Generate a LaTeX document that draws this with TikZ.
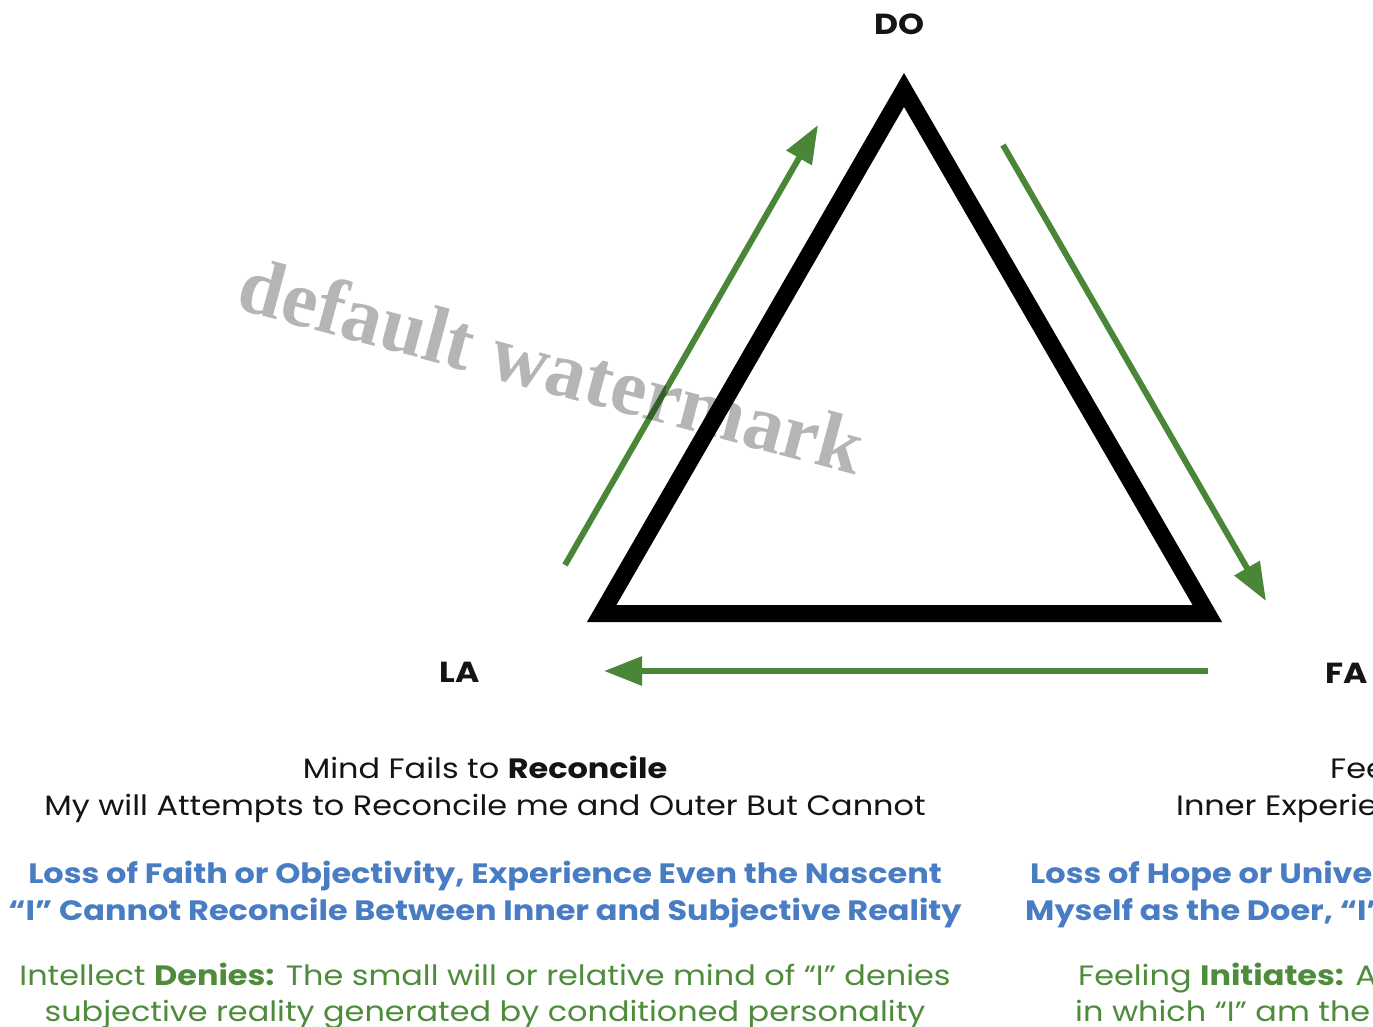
\documentclass[tikz,border=0pt]{standalone}
\usepackage{fontspec}
\setmainfont{Poppins}[FakeStretch=1.14]
\newfontfamily\wmfont{Liberation Serif}
\usetikzlibrary{arrows.meta}
\definecolor{arrowgreen}{RGB}{74,134,56}
\definecolor{textblue}{RGB}{72,125,196}
\definecolor{textgreen}{RGB}{78,140,60}
\definecolor{textblack}{RGB}{20,20,20}
\tikzset{
  tri/.style={line width=17pt, miter limit=10, line join=miter, draw=black},
  flow/.style={draw=arrowgreen, line width=6pt, -{Triangle[length=38pt,width=28pt]}},
  vertexlabel/.style={font=\fontsize{29}{34}\selectfont\bfseries, text=textblack, inner sep=0pt},
  blackline/.style={font=\fontsize{28}{34}\selectfont, text=textblack, inner sep=0pt, anchor=base},
  blueline/.style={font=\fontsize{28}{34}\selectfont\bfseries, text=textblue, inner sep=0pt, anchor=base},
  greenline/.style={font=\fontsize{28}{34}\selectfont, text=textgreen, inner sep=0pt, anchor=base},
  watermark/.style={font=\fontsize{80}{92}\selectfont\wmfont\bfseries, text=black, opacity=0.29, inner sep=0pt, anchor=base, rotate=-15}
}
\begin{document}
\begin{tikzpicture}[x=1pt,y=-1pt]
\useasboundingbox (0,0) rectangle (1373,1027);
\fill[white] (0,0) rectangle (1373,1027);
% triangle
\coordinate (apex) at (904,90);
\coordinate (bl) at (601.7,613.5);
\coordinate (br) at (1207.3,613.5);
\draw[tri] (apex) -- (br) -- (bl) -- cycle;
% arrow end points
\coordinate (a1s) at (565,565);
\coordinate (a1e) at (818,125);
\coordinate (a2s) at (1003,145);
\coordinate (a2e) at (1266,601);
\coordinate (a3s) at (1208,671);
\coordinate (a3e) at (604,671);
\draw[flow] (a1s) -- (a1e);
\draw[flow] (a2s) -- (a2e);
\draw[flow] (a3s) -- (a3e);
% vertex labels
\node[vertexlabel] (do) at (899,24) {DO};
\node[vertexlabel] (la) at (460,672) {LA};
\node[vertexlabel] (fa) at (1347,673) {FA};
% left column
\node[blackline] (l1) at (485,778) {Mind Fails to \textbf{Reconcile}};
\node[blackline] (l2) at (485,815) {My will Attempts to Reconcile me and Outer But Cannot};
\node[blueline] (l3) at (485,883) {Loss of Faith or Objectivity, Experience Even the Nascent};
\node[blueline] (l4) at (485,920) {“I” Cannot Reconcile Between Inner and Subjective Reality};
\node[greenline] (l5) at (485,985) {Intellect \textbf{Denies:} The small will or relative mind of “I” denies};
\node[greenline] (l6) at (485,1021) {subjective reality generated by conditioned personality};
% right column (cut by the edge)
\node[blackline, anchor=base west] (r1) at (1330,778) {Fee};
\node[blackline, anchor=base west] (r2) at (1176,815) {Inner Experie};
\node[blueline, anchor=base west] (r3) at (1030,883) {Loss of Hope or Unive};
\node[blueline, anchor=base west] (r4) at (1025,920) {Myself as the Doer, “I”};
\node[greenline, anchor=base west] (r5) at (1078,985) {Feeling \textbf{Initiates:} A};
\node[greenline, anchor=base west] (r6) at (1075,1021) {in which “I” am the};
% watermark
\node[watermark] (wm) at (545,392) {default watermark};
\end{tikzpicture}
\end{document}
